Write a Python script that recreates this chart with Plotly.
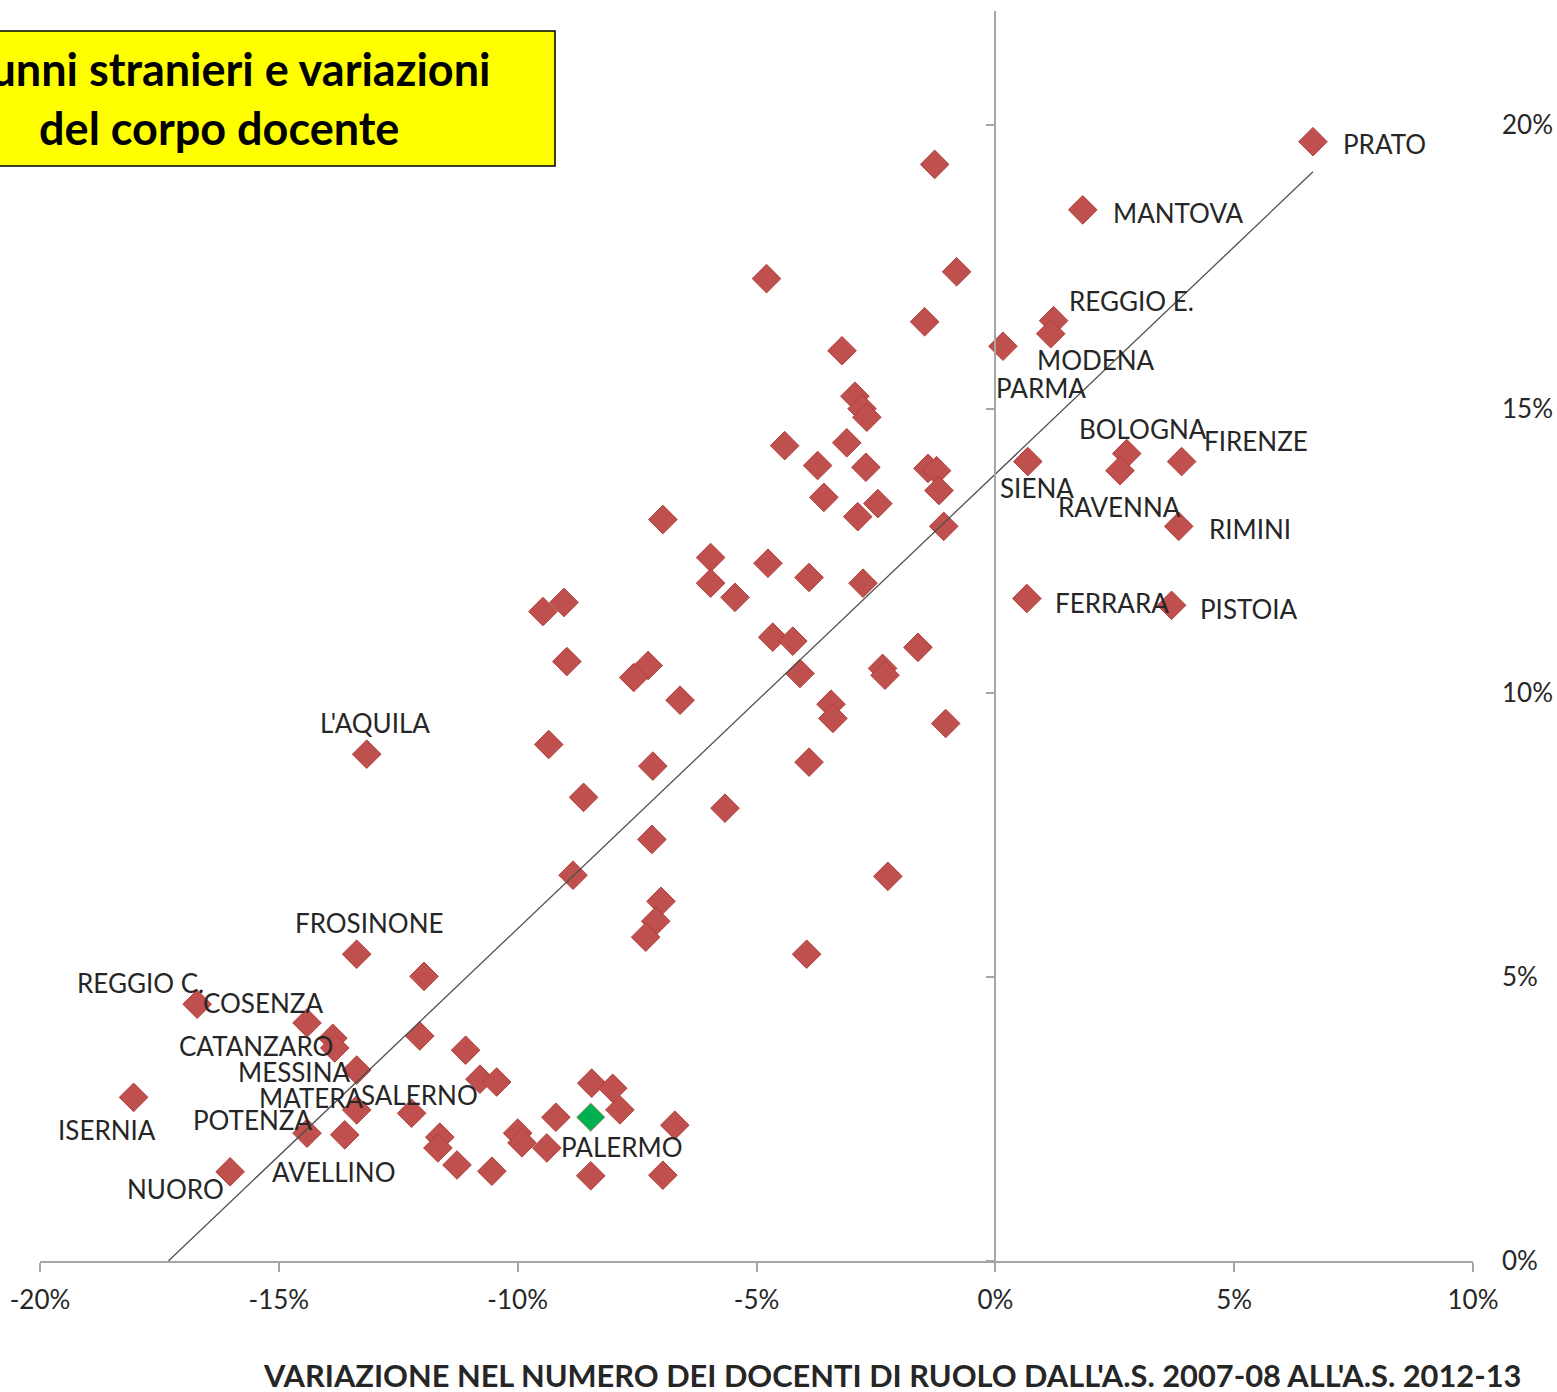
import plotly.graph_objects as go

# ---------------- data ----------------
NAMES = [
    "PRATO", "MANTOVA", "REGGIO E.", "MODENA", "PARMA", "SIENA", "BOLOGNA",
    "RAVENNA", "FIRENZE", "RIMINI", "FERRARA", "PISTOIA", "L'AQUILA",
    "FROSINONE", "REGGIO C.", "COSENZA", "CATANZARO", "MESSINA", "MATERA",
    "SALERNO", "POTENZA", "ISERNIA", "NUORO", "AVELLINO", "PALERMO",
] + [""] * 75

# variazione nel numero dei docenti di ruolo (%)
DOCENTI_VAR = [
    6.65, 1.83, 1.22, 1.16, 0.16, 0.68, 2.75,
    2.61, 3.90, 3.84, 0.66, 3.69, -13.16,
    -13.37, -16.71, -14.41, -13.87, -13.37, -13.37,
    -12.22, -14.41, -18.04, -16.02, -13.62, -8.47,
    # unlabeled provinces
    -1.27, -4.79, -0.81, -1.48, -3.21, -2.94, -2.79, -2.69, -4.41, -3.11,
    -3.72, -2.71, -1.41, -1.23, -1.18, -3.59, -2.46, -2.88, -1.08, -6.96,
    -5.96, -5.96, -5.45, -4.76, -3.90, -2.77, -9.47, -9.03, -4.66, -4.24,
    -4.09, -2.36, -2.31, -1.62, -8.97, -7.27, -7.57, -6.60, -3.44, -3.40,
    -1.04, -9.35, -7.17, -3.90, -8.62, -5.66, -7.19, -8.84, -2.25, -7.00,
    -7.11, -7.32, -3.95, -11.96, -13.83, -12.05, -11.63, -11.67, -11.27, -11.09,
    -10.79, -10.44, -10.54, -10.00, -9.91, -9.39, -9.20, -8.45, -8.01, -7.86,
    -6.71, -8.47, -6.96,
]

# alunni stranieri (%)
STRANIERI = [
    19.70, 18.50, 16.55, 16.32, 16.10, 14.07, 14.21,
    13.91, 14.07, 12.93, 11.66, 11.54, 8.92,
    5.40, 4.52, 4.19, 3.92, 3.36, 2.66,
    2.60, 2.25, 2.88, 1.57, 2.22, 2.53,
    # unlabeled provinces
    19.30, 17.29, 17.41, 16.53, 16.02, 15.22, 15.00, 14.85, 14.35, 14.40,
    14.00, 13.97, 13.95, 13.91, 13.56, 13.44, 13.33, 13.10, 12.93, 13.05,
    12.38, 11.93, 11.68, 12.28, 12.03, 11.93, 11.43, 11.59, 10.98, 10.91,
    10.34, 10.43, 10.31, 10.80, 10.55, 10.48, 10.27, 9.87, 9.80, 9.55,
    9.46, 9.09, 8.71, 8.78, 8.16, 7.97, 7.42, 6.79, 6.77, 6.33,
    5.98, 5.70, 5.40, 5.01, 3.75, 3.96, 2.18, 1.99, 1.69, 3.71,
    3.20, 3.15, 1.58, 2.25, 2.08, 1.99, 2.53, 3.13, 3.04, 2.66,
    2.39, 1.50, 1.51,
]
N = min(len(NAMES), len(DOCENTI_VAR), len(STRANIERI))
NAMES, DOCENTI_VAR, STRANIERI = NAMES[:N], DOCENTI_VAR[:N], STRANIERI[:N]

HIGHLIGHT = "PALERMO"

X_TICK_VALS = [-20, -15, -10, -5, 0, 5, 10]
X_TICK_TEXT = ["-20%", "-15%", "-10%", "-5%", "0%", "5%", "10%"]
Y_TICK_VALS = [0, 5, 10, 15, 20]
Y_TICK_TEXT = ["0%", "5%", "10%", "15%", "20%"]

TREND_SLOPE = 0.80
TREND_INTERCEPT = 13.85

TITLE_TEXT = "Alunni stranieri e variazioni<br>del corpo docente"
X_TITLE = "VARIAZIONE NEL NUMERO DEI DOCENTI DI RUOLO DALL'A.S. 2007-08 ALL'A.S. 2012-13"

# ---------------- styles / label placement (pixel offsets) ----------------
FONT = "Lato"
RED = "#C0504D"
RED_EDGE = "#B0403D"
GREEN = "#00B050"
AXIS_COL = "#A6A6A6"
TEXT_COL = "#262626"

LABEL_OFFSETS = {  # (xshift, yshift) of label centre from marker centre
    "PRATO": (72, -2), "MANTOVA": (96, -3), "REGGIO E.": (78, 20),
    "MODENA": (45, -26), "PARMA": (38, -42), "BOLOGNA": (16, 25),
    "FIRENZE": (74, 21), "SIENA": (9, -26), "RAVENNA": (-1, -36),
    "RIMINI": (71, -3), "FERRARA": (85, -4), "PISTOIA": (77, -4),
    "L'AQUILA": (8, 31), "FROSINONE": (13, 31), "REGGIO C.": (-57, 21),
    "COSENZA": (-44, 20), "CATANZARO": (-77, -8), "MESSINA": (-63, -2),
    "MATERA": (-45, 12), "SALERNO": (8, 18), "POTENZA": (-55, 13),
    "ISERNIA": (-27, -33), "NUORO": (-55, -17), "AVELLINO": (-11, -37),
    "PALERMO": (31, -30),
}

# ---------------- figure ----------------
red_x = [x for x, n in zip(DOCENTI_VAR, NAMES) if n != HIGHLIGHT]
red_y = [y for y, n in zip(STRANIERI, NAMES) if n != HIGHLIGHT]
grn_x = [x for x, n in zip(DOCENTI_VAR, NAMES) if n == HIGHLIGHT]
grn_y = [y for y, n in zip(STRANIERI, NAMES) if n == HIGHLIGHT]

fig = go.Figure()
fig.add_trace(go.Scatter(
    x=red_x, y=red_y, mode="markers",
    marker=dict(symbol="diamond", size=22, color=RED,
                line=dict(color=RED_EDGE, width=1)),
    hoverinfo="skip"))
fig.add_trace(go.Scatter(
    x=grn_x, y=grn_y, mode="markers",
    marker=dict(symbol="diamond", size=22, color=GREEN,
                line=dict(color="#D89A90", width=1)),
    hoverinfo="skip"))

# linear trend line (Excel style), drawn from min to max x and clipped at 0 %
x_lo = max(min(DOCENTI_VAR), -TREND_INTERCEPT / TREND_SLOPE)
x_hi = max(DOCENTI_VAR)
tx = [x_lo, x_hi]
ty = [TREND_SLOPE * v + TREND_INTERCEPT for v in tx]
fig.add_trace(go.Scatter(
    x=tx, y=ty, mode="lines", yaxis="y2",
    line=dict(color="#505050", width=1.3), hoverinfo="skip"))

for name, x, y in zip(NAMES, DOCENTI_VAR, STRANIERI):
    if not name:
        continue
    dx, dy = LABEL_OFFSETS.get(name, (40, 0))
    fig.add_annotation(
        x=x, y=y, xref="x", yref="y", text=name, showarrow=False,
        xanchor="center", yanchor="middle", xshift=dx, yshift=dy,
        font=dict(family=FONT, size=26, color=TEXT_COL))

L, R, T, B = 40, 84, 11, 131
W, H = 1557, 1392
PW, PH = W - L - R, H - T - B


def px_x(px):
    return (px - L) / PW


def px_y(py):
    return (H - B - py) / PH


# yellow title box (partly outside the left edge, as in the reference)
fig.add_shape(type="rect", xref="paper", yref="paper",
              x0=px_x(-20), x1=px_x(555), y0=px_y(166), y1=px_y(31),
              fillcolor="#FFFF00", line=dict(color="#000000", width=1.5),
              layer="above")
fig.add_annotation(
    xref="paper", yref="paper", x=px_x(218), y=px_y(98),
    text="<b>" + TITLE_TEXT.replace("<br>", "</b><br><b>") + "</b>",
    showarrow=False, xanchor="center", yanchor="middle", align="center",
    font=dict(family=FONT, size=45, color="#000000"))

fig.add_annotation(
    xref="paper", yref="paper", x=px_x(892), y=px_y(1375),
    text="<b>" + X_TITLE + "</b>", showarrow=False,
    xanchor="center", yanchor="middle",
    font=dict(family=FONT, size=30.8, color=TEXT_COL))

fig.update_layout(
    width=W, height=H, autosize=False,
    margin=dict(l=L, r=R, t=T, b=B, pad=0, autoexpand=False),
    paper_bgcolor="white", plot_bgcolor="white",
    showlegend=False,
    font=dict(family=FONT, color=TEXT_COL),
    xaxis=dict(
        range=[-20, 10], tickvals=X_TICK_VALS, ticktext=X_TICK_TEXT,
        automargin=False,
        showline=True, linecolor=AXIS_COL, linewidth=1.5,
        ticks="outside", ticklen=9, tickwidth=1.5, tickcolor=AXIS_COL,
        showgrid=False, zeroline=False, ticklabelstandoff=6,
        tickfont=dict(family=FONT, size=26, color=TEXT_COL)),
    yaxis=dict(
        range=[0, 22], tickvals=Y_TICK_VALS, ticktext=Y_TICK_TEXT,
        automargin=False,
        side="right", showline=False, ticks="", showgrid=False,
        zeroline=False, ticklabelstandoff=28,
        tickfont=dict(family=FONT, size=26, color=TEXT_COL)),
    yaxis2=dict(
        range=[0, 22], overlaying="y", anchor="free",
        position=(0 - (-20)) / 30, side="left", automargin=False,
        tickvals=Y_TICK_VALS, showticklabels=False,
        showline=True, linecolor=AXIS_COL, linewidth=1.5,
        ticks="outside", ticklen=9, tickwidth=1.5, tickcolor=AXIS_COL,
        showgrid=False, zeroline=False),
)

fig.write_html(
    "out.html",
    config={"displayModeBar": False, "responsive": False},
    post_script=(
        "document.documentElement.style.overflow='hidden';"
        "document.body.style.overflow='hidden';"
        "document.body.style.margin='0';document.body.style.padding='0';"
    ),
)
